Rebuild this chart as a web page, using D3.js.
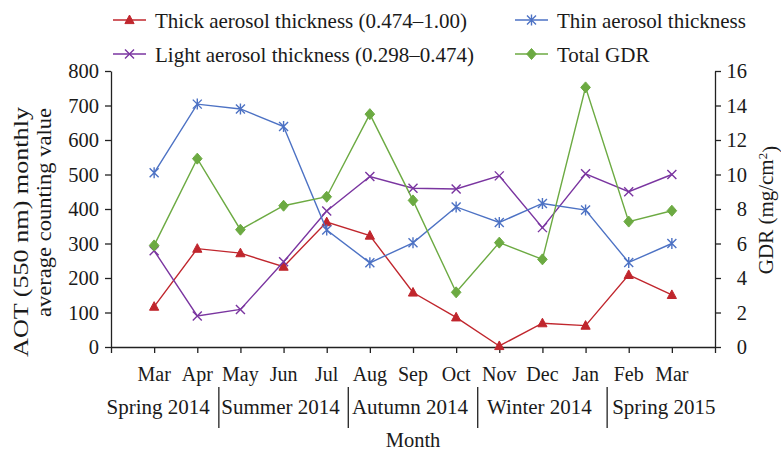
<!DOCTYPE html>
<html>
<head>
<meta charset="utf-8">
<script src="https://cdn.jsdelivr.net/npm/d3@7"></script>
<style>
  body { margin: 0; background: #fff; }
  svg { display: block; }
  text { font-family: "Liberation Serif", "Times New Roman", serif; fill: #1a1a1a; }
</style>
</head>
<body>
<svg id="chart" width="781" height="451"></svg>
<script>
// monthly values, Mar 2014 - Mar 2015
var months = ["Mar", "Apr", "May", "Jun", "Jul", "Aug", "Sep", "Oct", "Nov", "Dec", "Jan", "Feb", "Mar"];
var thick = [117, 285, 272, 233, 362, 323, 158, 86, 3, 69, 62, 209, 151];
var light = [279, 90, 109, 247, 394, 494, 460, 458, 496, 346, 502, 450, 500];
var thin = [505, 704, 690, 639, 339, 244, 302, 406, 361, 416, 397, 245, 300];
var gdr = [5.89, 10.92, 6.8, 8.19, 8.71, 13.5, 8.5, 3.17, 6.05, 5.08, 15.05, 7.27, 7.9];

var seasons = ["Spring 2014", "Summer 2014", "Autumn 2014", "Winter 2014", "Spring 2015"];
var seasonEnd = [1, 4, 7, 10, 12]; // index of last month in each season

var leftTicks = d3.range(0, 801, 100);
var rightTicks = d3.range(0, 17, 2);

var svg = d3.select("#chart");

var x = d3.scaleLinear().domain([0, months.length + 1]).range([111, 715]);
var yL = d3.scaleLinear().domain([0, 800]).range([347, 71]);
var yR = d3.scaleLinear().domain([0, 16]).range([347, 71]);

var axisColor = "#222";

// axes
function styleAxis(g) {
    g.attr("font-family", null).attr("font-size", null);
    g.selectAll("path, line").attr("stroke", axisColor).attr("stroke-width", 1.3);
    g.selectAll("text")
        .style("font-size", "20.5px")
        .attr("fill", "#1a1a1a");
}

svg.append("g")
    .attr("transform", "translate(111,0)")
    .call(d3.axisLeft(yL).tickValues(leftTicks).tickSize(6).tickSizeOuter(0).tickPadding(6))
    .call(styleAxis)
    .call(g => g.selectAll("text").attr("dy", "0.34em"));

svg.append("g")
    .attr("transform", "translate(715,0)")
    .call(d3.axisRight(yR).tickValues(rightTicks).tickSize(6).tickSizeOuter(0))
    .call(styleAxis)
    .call(g => g.selectAll("text").attr("text-anchor", "end").attr("x", 32).attr("dy", "0.34em"));

svg.append("g")
    .attr("transform", "translate(0,347)")
    .call(d3.axisBottom(x).tickValues(d3.range(0, months.length + 2)).tickFormat("").tickSize(6).tickSizeOuter(0))
    .call(styleAxis);

// month labels
svg.append("g").selectAll("text")
    .data(months)
    .join("text")
    .attr("x", (d, i) => x(i + 1))
    .attr("y", 381)
    .attr("text-anchor", "middle")
    .style("font-size", "20px")
    .text(d => d);

// season labels + separators
var seps = seasonEnd.slice(0, -1).map(e => x(e + 1.5));
svg.append("g").selectAll("line")
    .data(seps)
    .join("line")
    .attr("x1", d => d).attr("x2", d => d)
    .attr("y1", 387).attr("y2", 428)
    .attr("stroke", axisColor)
    .attr("stroke-width", 1.3);

svg.append("g").selectAll("text")
    .data(seasons)
    .join("text")
    .attr("x", (d, i) => {
        if (i == 0) return seps[0] - 9;
        if (i == seasons.length - 1) return seps[i - 1] + 5;
        return (seps[i - 1] + seps[i]) / 2 - 3;
    })
    .attr("y", 414)
    .attr("text-anchor", (d, i) => i == 0 ? "end" : (i == seasons.length - 1 ? "start" : "middle"))
    .style("font-size", "21px")
    .text(d => d);

svg.append("text")
    .attr("x", (x.range()[0] + x.range()[1]) / 2)
    .attr("y", 447)
    .attr("text-anchor", "middle")
    .style("font-size", "20.5px")
    .text("Month");

// axis titles
svg.append("text")
    .attr("transform", "translate(28,107) rotate(-90)")
    .attr("text-anchor", "end")
    .attr("textLength", 250)
    .attr("lengthAdjust", "spacingAndGlyphs")
    .style("font-size", "21.5px")
    .text("AOT (550 nm) monthly");

svg.append("text")
    .attr("transform", "translate(51,108) rotate(-90)")
    .attr("text-anchor", "end")
    .attr("textLength", 209)
    .attr("lengthAdjust", "spacingAndGlyphs")
    .style("font-size", "21.5px")
    .text("average counting value");

var gdrTitle = svg.append("text")
    .attr("transform", "translate(773,210) rotate(-90)")
    .attr("text-anchor", "middle")
    .style("font-size", "21px");
gdrTitle.append("tspan").text("GDR (mg/cm");
gdrTitle.append("tspan").attr("dy", "-0.45em").style("font-size", "13px").text("2");
gdrTitle.append("tspan").attr("dy", "0.45em").text(")");

// markers
var markers = {
    triangle: "M0,-5L4.6,3.6L-4.6,3.6Z",
    cross: "M-4.5,-4.5L4.5,4.5M-4.5,4.5L4.5,-4.5",
    star: "M-4.5,-4.5L4.5,4.5M-4.5,4.5L4.5,-4.5M0,-5.5L0,5.5",
    diamond: "M0,-5.5L4.8,0L0,5.5L-4.8,0Z"
};

var series = [
    { name: "Thick aerosol thickness (0.474\u20131.00)", values: thick, scale: yL, color: "#c0262d", marker: "triangle", filled: true },
    { name: "Light aerosol thickness (0.298\u20130.474)", values: light, scale: yL, color: "#7a35a0", marker: "cross", filled: false },
    { name: "Thin aerosol thickness", values: thin, scale: yL, color: "#4d72c4", marker: "star", filled: false },
    { name: "Total GDR", values: gdr, scale: yR, color: "#6caa42", marker: "diamond", filled: true }
];

var plot = svg.append("g");
series.forEach(function(s) {
    var line = d3.line()
        .x((d, i) => x(i + 1))
        .y(d => s.scale(d));
    var g = plot.append("g");
    g.append("path")
        .datum(s.values)
        .attr("d", line)
        .attr("fill", "none")
        .attr("stroke", s.color)
        .attr("stroke-width", 1.4);
    g.selectAll("path.mk")
        .data(s.values)
        .join("path")
        .attr("class", "mk")
        .attr("transform", (d, i) => `translate(${x(i + 1)},${s.scale(d)})`)
        .attr("d", markers[s.marker])
        .attr("fill", s.filled ? s.color : "none")
        .attr("stroke", s.color)
        .attr("stroke-width", s.filled ? 1 : 1.4);
});

// legend: two columns, two rows
var legendPos = [[113, 20], [113, 54], [515, 20], [515, 54]];
var legend = svg.append("g").selectAll("g")
    .data(series)
    .join("g")
    .attr("transform", (d, i) => `translate(${legendPos[i][0]},${legendPos[i][1]})`);

legend.append("line")
    .attr("x1", 0).attr("x2", 33)
    .attr("stroke", d => d.color)
    .attr("stroke-width", 1.6);
legend.append("path")
    .attr("transform", "translate(16.5,0)")
    .attr("d", d => markers[d.marker])
    .attr("fill", d => d.filled ? d.color : "none")
    .attr("stroke", d => d.color)
    .attr("stroke-width", d => d.filled ? 1 : 1.4);
legend.append("text")
    .attr("x", 42)
    .attr("y", 7.5)
    .style("font-size", "21px")
    .text(d => d.name);
</script>
</body>
</html>
